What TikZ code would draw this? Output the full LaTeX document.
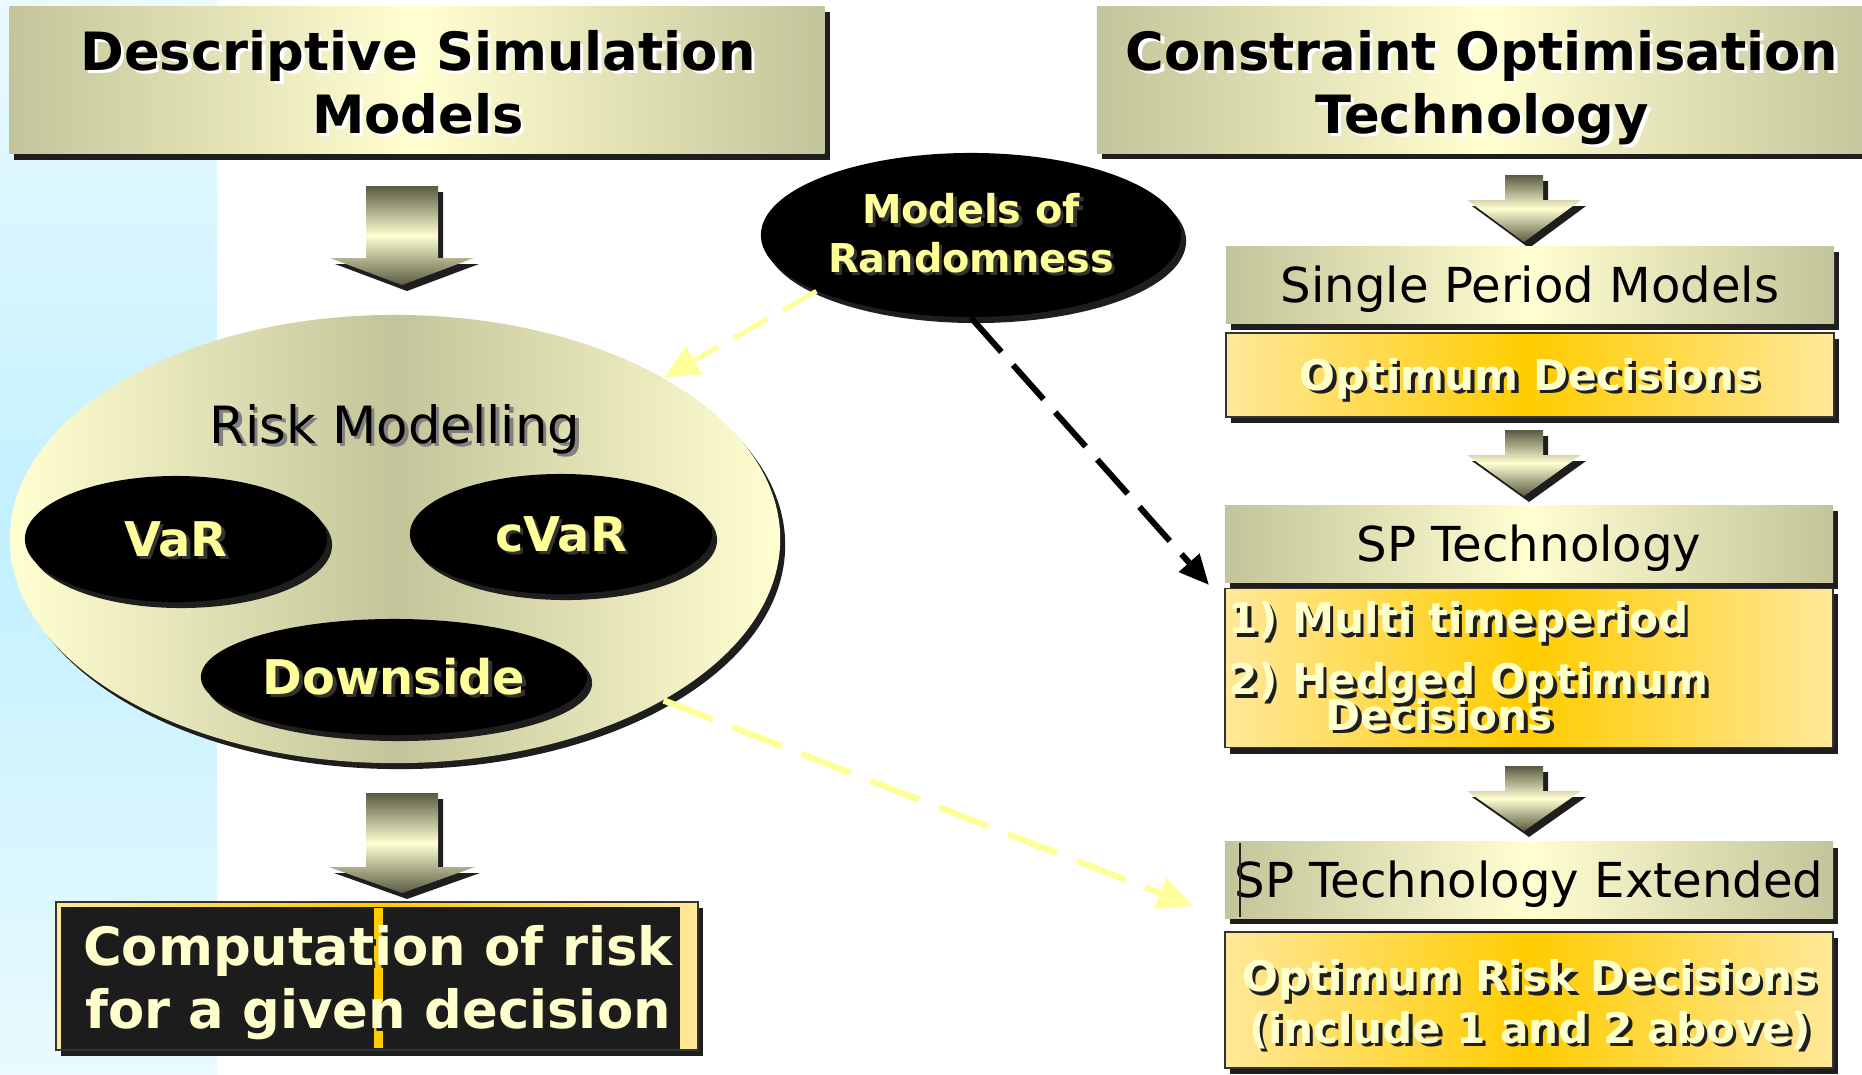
\documentclass[tikz,border=0pt]{standalone}
\usepackage{fontspec}
\setmainfont{DejaVu Sans}
\usetikzlibrary{shapes.geometric, arrows.meta, shadows}

\definecolor{khaki}{HTML}{C4C49A}
\definecolor{paleyel}{HTML}{FFFFD2}
\definecolor{goldmid}{HTML}{FFCC00}
\definecolor{goldedge}{HTML}{FFE89A}
\definecolor{textyel}{HTML}{FFFF99}
\definecolor{textpale}{HTML}{FFFFCC}
\definecolor{shadowgray}{HTML}{1E1E1E}
\definecolor{arrowdark}{HTML}{5A5A44}
\definecolor{skyblue}{HTML}{C2F0FF}
\definecolor{skypale}{HTML}{EAFAFF}
\definecolor{compdark}{HTML}{1C1C1C}

% text with an offset copy underneath
\newcommand{\txtshadow}[2]{\leavevmode\rlap{\textcolor{#1}{\kern1pt\raisebox{-1pt}{#2}}}#2}

\tikzset{
	dshadow/.style={drop shadow={shadow xshift=0.05cm, shadow yshift=-0.06cm, opacity=1, fill=shadowgray}},
	khakibox/.style={rectangle, inner sep=0pt, left color=khaki, right color=khaki, middle color=paleyel, dshadow},
	goldbox/.style={rectangle, inner sep=0pt, draw=gray!40!black, line width=0.4pt, left color=goldedge, right color=goldedge, middle color=goldmid, dshadow, text=textpale, font=\fontsize{12pt}{14.5pt}\selectfont\bfseries, text height=8.75pt, text depth=0pt},
	goldtxt/.style={text=textpale, align=center, inner sep=0pt, font=\fontsize{12pt}{14.6pt}\selectfont\bfseries},
	blob/.style={ellipse, inner sep=0pt, fill=black, dshadow, text=textyel, align=center, font=\fontsize{13.6pt}{16pt}\selectfont\bfseries},
	blobcap/.style={text height=9.9pt, text depth=0pt},
	headtxt/.style={align=center, inner sep=0pt, text=black, font=\fontsize{15pt}{17.9pt}\selectfont\bfseries},
	plaintxt/.style={text=black, font=\fontsize{13.7pt}{16pt}\selectfont, text height=10pt, text depth=0pt},
	arrowfill/.style={top color=arrowdark, bottom color=arrowdark, middle color=paleyel, dshadow},
	blkdash/.style={draw=black, line width=1.7pt, dash pattern=on 13pt off 5pt, -{Triangle[length=8.5pt, width=7.5pt]}},
	yeldash/.style={draw=textyel, line width=1.4pt, dash pattern=on 11pt off 5pt, -{Triangle[length=10pt, width=9pt]}}
}

% fat down arrow: centre x, top, shaft half width, neck, head half width, tip
\newcommand{\blockarr}[6]{%
	\shade[arrowfill] ({#1-#3},#2) -- ({#1+#3},#2) -- ({#1+#3},#4) -- ({#1+#5},#4)
		-- (#1,#6) -- ({#1-#5},#4) -- ({#1-#3},#4) -- cycle;}

\begin{document}
\begin{tikzpicture}[x=0.01cm, y=-0.01cm]
	\useasboundingbox (0,0) rectangle (1862,1075);
	\shade[top color=skypale, bottom color=skypale, middle color=skyblue] (0,0) rectangle (217,1075);
	%%%	Titoli
	\node[khakibox, minimum width=8.15cm, minimum height=1.47cm] (desc) at (417,80) {};
	\node[headtxt, anchor=base] (desctxt) at (418,133)
		{\txtshadow{white}{Descriptive Simulation}\\\txtshadow{white}{Models}};
	\node[khakibox, minimum width=7.78cm, minimum height=1.46cm] (cot) at (1486,80) {};
	\node[headtxt, anchor=base] (cottxt) at (1482,133)
		{\txtshadow{white}{Constraint Optimisation}\\\txtshadow{white}{Technology}};
	%%%	Frecce
	\blockarr{402}{186}{36}{258}{72}{285}
	\blockarr{402}{793}{36}{867}{73}{893}
	\blockarr{1524}{175}{19}{200}{57}{242}
	\blockarr{1524}{430}{19}{455}{57}{496}
	\blockarr{1524}{766}{19}{791}{57}{831}
	%%%	Rischio
	\node[ellipse, inner sep=0pt, minimum width=7.70cm, minimum height=4.48cm,
		left color=paleyel, right color=paleyel, middle color=khaki, dshadow] (risk) at (395,539) {};
	\node[text=black, font=\fontsize{14.6pt}{17pt}\selectfont, anchor=base] (risklbl) at (395,443)
		{\txtshadow{gray}{Risk Modelling}};
	\node[blob, blobcap, minimum width=3.02cm, minimum height=1.26cm] (var) at (176,539) {\txtshadow{gray!40!black}{VaR}};
	\node[blob, blobcap, minimum width=3.02cm, minimum height=1.20cm] (cvar) at (561,534) {\txtshadow{gray!40!black}{cVaR}};
	\node[blob, blobcap, minimum width=3.86cm, minimum height=1.16cm] (downside) at (394,677) {\txtshadow{gray!40!black}{Downside}};
	\node[blob, minimum width=4.20cm, minimum height=1.64cm, font=\fontsize{11.3pt}{13.7pt}\selectfont\bfseries] (models) at (971,235)
		{\txtshadow{gray!40!black}{Models of}\\\txtshadow{gray!40!black}{Randomness}};
	% calcolo
	\node[goldbox, minimum width=6.42cm, minimum height=1.48cm] (comp) at (377,976) {};
	\fill[compdark] ([shift={(6,6)}]comp.north west) rectangle ([shift={(-19,-2)}]comp.south east);
	\fill[goldmid] (374,908) rectangle (383,1048);
	\node[goldtxt, font=\fontsize{15pt}{17.9pt}\selectfont\bfseries, anchor=base] (comptxt) at (378,1028)
		{\txtshadow{shadowgray}{Computation of risk}\\\txtshadow{shadowgray}{for a given decision}};
	%%%	Tecnologia SP
	\node[khakibox, plaintxt, minimum width=6.08cm, minimum height=0.77cm] (single) at (1530,285) {Single Period Models};
	\node[goldbox, minimum width=6.08cm, minimum height=0.84cm] (optdec) at (1530,375) {\txtshadow{shadowgray}{Optimum Decisions}};
	\node[khakibox, plaintxt, minimum width=6.08cm, minimum height=0.77cm] (sptech) at (1529,544) {SP Technology};
	\node[goldbox, minimum width=6.08cm, minimum height=1.59cm] (multi) at (1529,668) {};
	\node[goldtxt, align=left, anchor=west, font=\fontsize{12pt}{17.4pt}\selectfont\bfseries] (multitxt)
		at ([xshift=0.04cm]multi.west)
		{\txtshadow{shadowgray}{1) Multi timeperiod}\\\txtshadow{shadowgray}{2) Hedged Optimum}\\[-7.4pt]
		\hspace*{0.97cm}\txtshadow{shadowgray}{Decisions}};
	\node[khakibox, plaintxt, minimum width=6.08cm, minimum height=0.76cm] (spext) at (1529,880) {SP Technology Extended};
	\draw[gray!30!black, line width=0.5pt] (1240,843) -- (1240,917);
	\node[goldbox, minimum width=6.08cm, minimum height=1.36cm] (optrisk) at (1529,1000) {};
	\node[goldtxt, anchor=base] (optrisktxt) at (1530,1043)
		{\txtshadow{shadowgray}{Optimum Risk Decisions}\\\txtshadow{shadowgray}{(include 1 and 2 above)}};
	%%%	Collegamenti
	\coordinate (sptip) at (1209,585);
	\coordinate (exttip) at (1193,906);
	\draw[blkdash] (models.south) -- (sptip);
	\draw[yeldash] (models.200) -- (risk.31);
	\draw[yeldash, line width=1.8pt, dash pattern=on 15pt off 6pt] (risk.-31) -- (exttip);
\end{tikzpicture}
\end{document}
